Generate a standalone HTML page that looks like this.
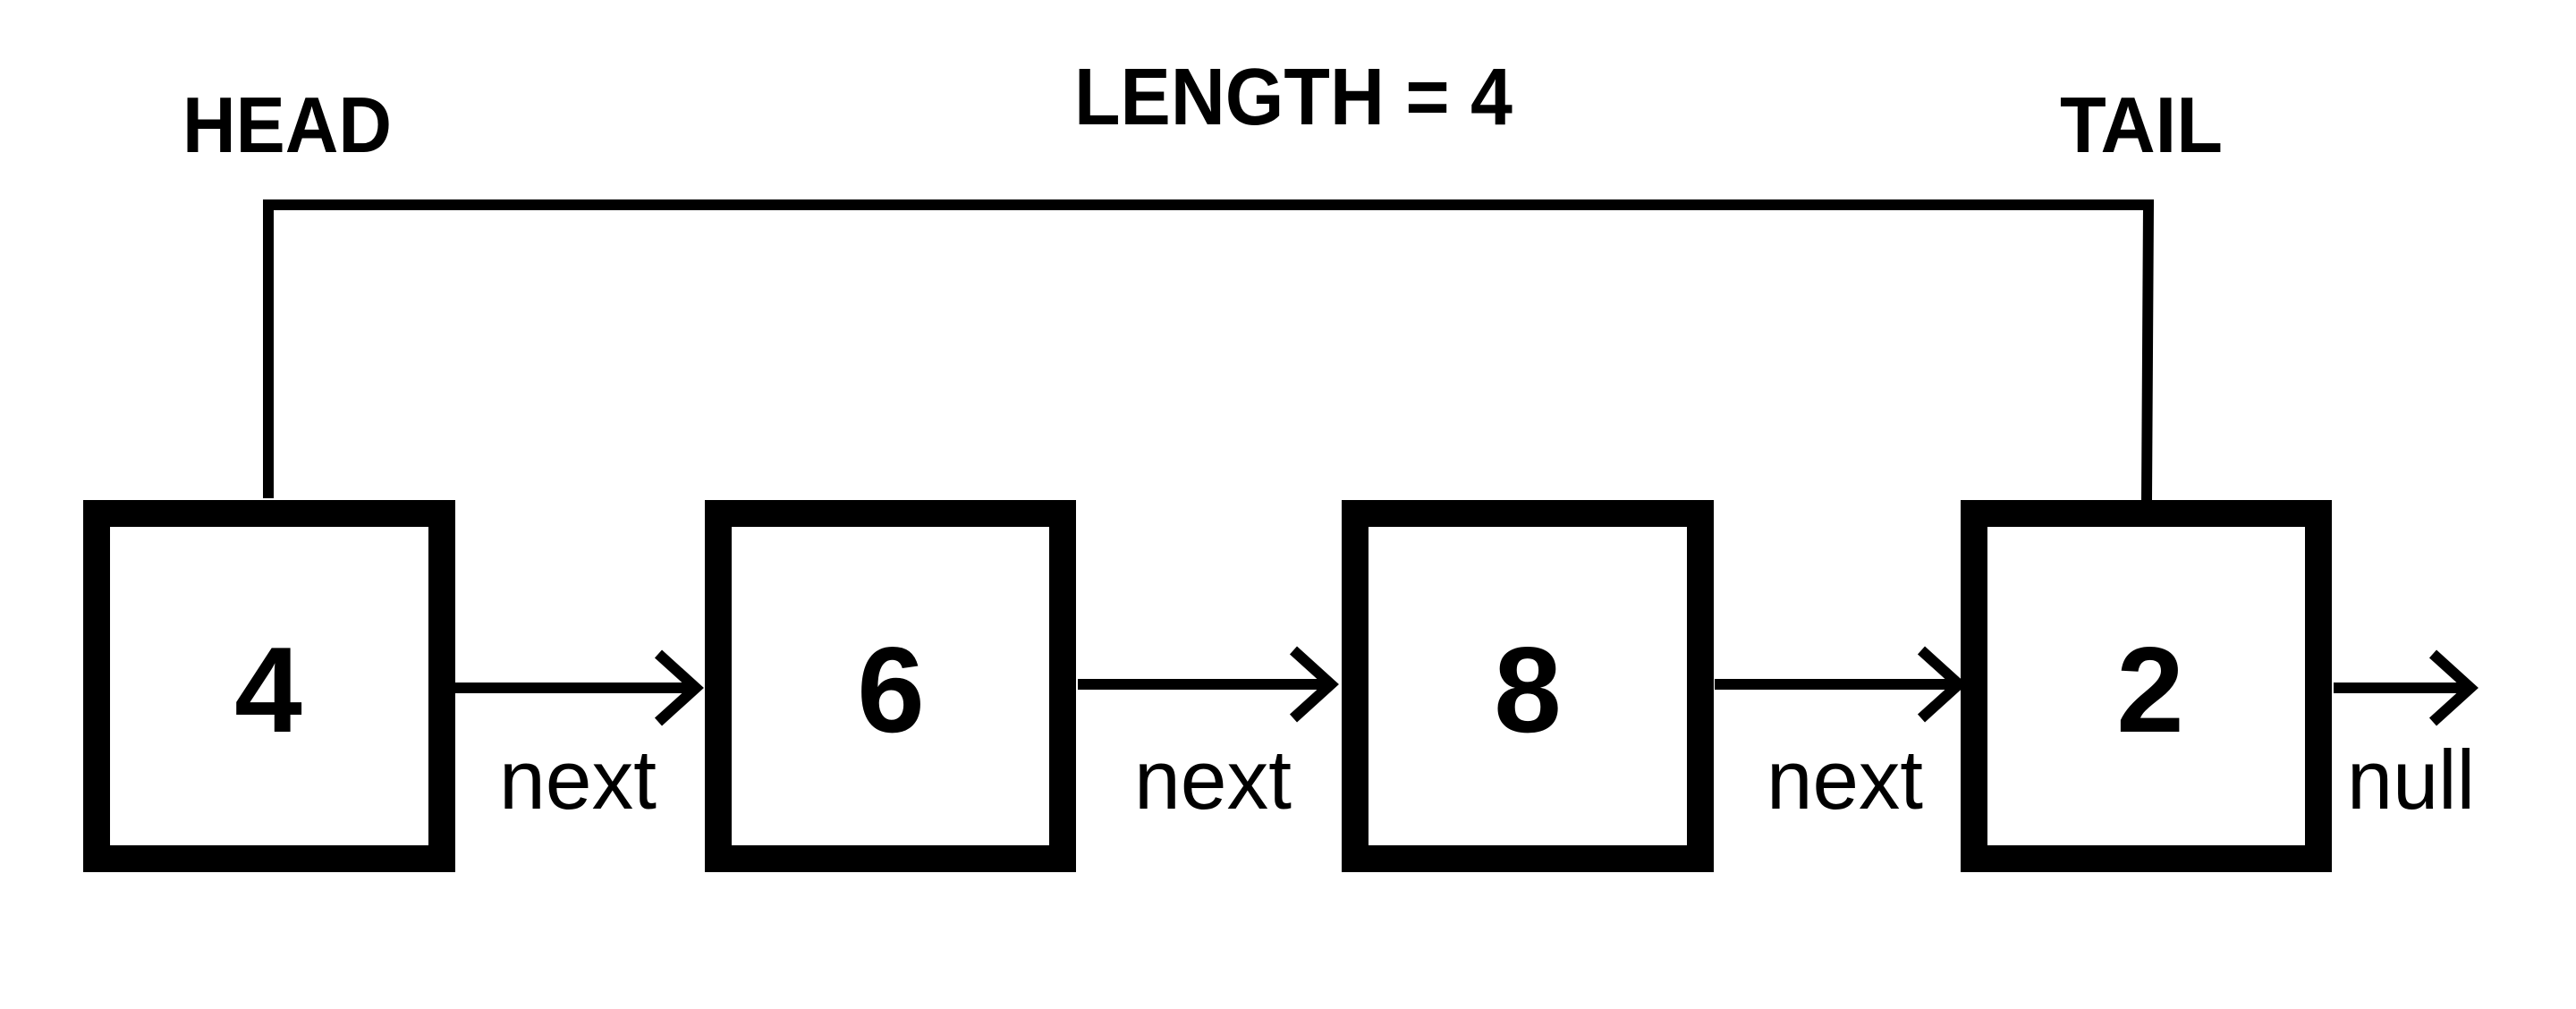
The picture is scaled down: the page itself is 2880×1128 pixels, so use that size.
<!DOCTYPE html>
<html><head><meta charset="utf-8"><style>
html,body{margin:0;padding:0;background:#fff;}
svg{display:block;}
text{font-family:"Liberation Sans",sans-serif;fill:#000;}
</style></head><body>
<svg width="2880" height="1128" viewBox="0 0 2880 1128">
<rect width="2880" height="1128" fill="#fff"/>
<text x="204" y="170" font-size="88" font-weight="bold" textLength="234" lengthAdjust="spacingAndGlyphs">HEAD</text>
<text x="1201" y="139" font-size="90" font-weight="bold" textLength="490" lengthAdjust="spacingAndGlyphs">LENGTH = 4</text>
<text x="2303" y="170" font-size="88" font-weight="bold" textLength="182" lengthAdjust="spacingAndGlyphs">TAIL</text>
<path d="M300 557 V229 H2402 L2400 559" fill="none" stroke="#000" stroke-width="12"/>
<g>
<rect x="108" y="574" width="386" height="386" fill="none" stroke="#000" stroke-width="30"/>
<text x="300" y="818" font-size="136" font-weight="bold" text-anchor="middle">4</text></g>
<g>
<rect x="803" y="574" width="385" height="386" fill="none" stroke="#000" stroke-width="30"/>
<text x="996" y="818" font-size="136" font-weight="bold" text-anchor="middle">6</text></g>
<g>
<rect x="1515" y="574" width="386" height="386" fill="none" stroke="#000" stroke-width="30"/>
<text x="1708" y="818" font-size="136" font-weight="bold" text-anchor="middle">8</text></g>
<g>
<rect x="2207" y="574" width="385" height="386" fill="none" stroke="#000" stroke-width="30"/>
<text x="2404" y="818" font-size="136" font-weight="bold" text-anchor="middle">2</text></g>
<g fill="none" stroke="#000" stroke-width="12">
<path d="M509 769 H778 M736 731 L778 769 L736 807"/>
<path d="M1205 765 H1488 M1446 727 L1488 765 L1446 803"/>
<path d="M1917 765 H2190 M2148 727 L2190 765 L2148 803"/>
<path d="M2609 769 H2762 M2720 731 L2762 769 L2720 807"/>
</g>
<text x="558" y="904" font-size="94" textLength="176" lengthAdjust="spacingAndGlyphs">next</text>
<text x="1268" y="904" font-size="94" textLength="176" lengthAdjust="spacingAndGlyphs">next</text>
<text x="1975" y="904" font-size="94" textLength="175" lengthAdjust="spacingAndGlyphs">next</text>
<text x="2624" y="904" font-size="94" textLength="143" lengthAdjust="spacingAndGlyphs">null</text>
</svg>
</body></html>
